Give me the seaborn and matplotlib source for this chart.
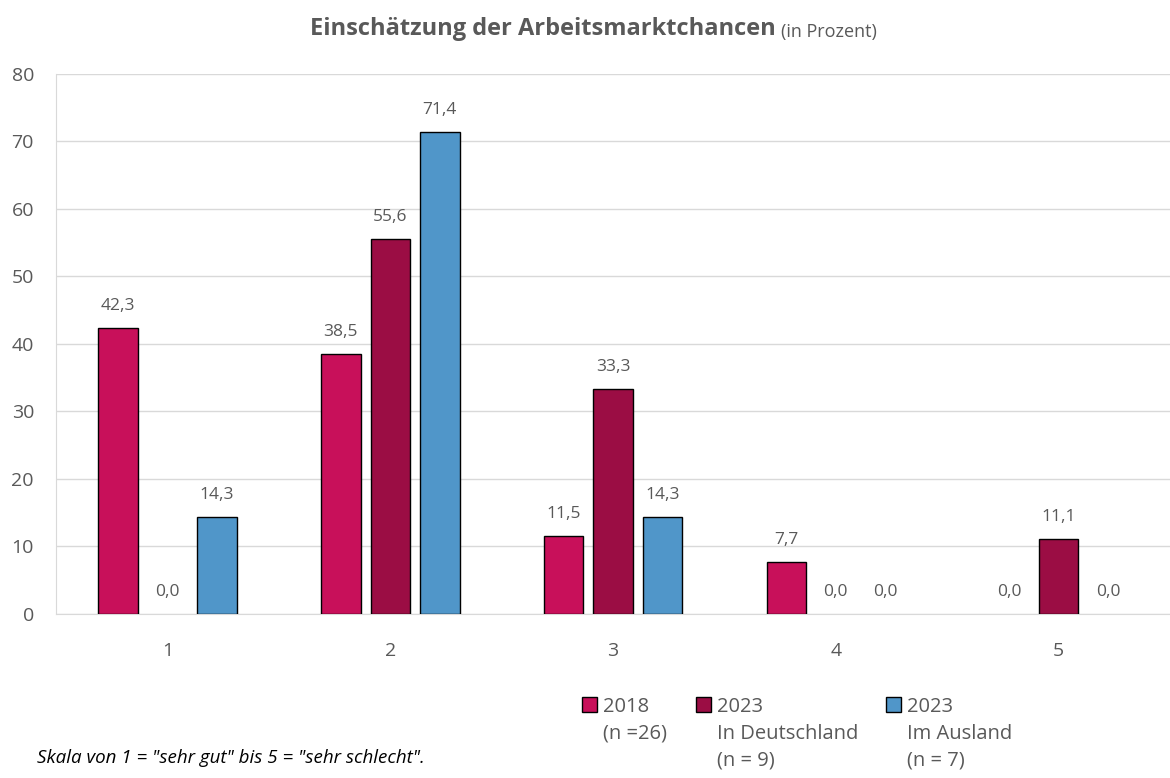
import numpy as np
import pandas as pd
import matplotlib.pyplot as plt
import seaborn as sns

# Daten
kategorien = ["1", "2", "3", "4", "5"]
gruppen = ["2018\n(n =26)", "2023\nIn Deutschland\n(n = 9)", "2023\nIm Ausland\n(n = 7)"]
werte_2018 = [42.3, 38.5, 11.5, 7.7, 0.0]
werte_2023_de = [0.0, 55.6, 33.3, 0.0, 11.1]
werte_2023_aus = [14.3, 71.4, 14.3, 0.0, 0.0]
farben = ["#C8105A", "#9B0D44", "#5096C9"]

df = pd.DataFrame({
    "Kategorie": kategorien * 3,
    "Gruppe": [gruppen[0]] * 5 + [gruppen[1]] * 5 + [gruppen[2]] * 5,
    "Prozent": werte_2018 + werte_2023_de + werte_2023_aus,
})

sns.set_style("white")
plt.rcParams['font.family'] = ['Open Sans', 'DejaVu Sans']
grau = "#595959"

fig = plt.figure(figsize=(11.7, 7.78), dpi=100)
ax = fig.add_axes([0.048, 0.211, 0.952, 0.694])

sns.barplot(data=df, x="Kategorie", y="Prozent", hue="Gruppe", palette=farben, saturation=1,
            width=0.667, gap=0.2, edgecolor="black", linewidth=1, ax=ax, zorder=3)

for cont in ax.containers:
    for p, v in zip(cont.patches, cont.datavalues):
        if v == 0:
            p.set_linewidth(0)
    ax.bar_label(cont, labels=[f"{v:.1f}".replace(".", ",") for v in cont.datavalues],
                 padding=10, fontsize=12.5, color=grau)

ax.set_ylim(0, 80)
ax.set_xlim(-0.5, 4.5)
ax.set_yticks(range(0, 81, 10))
ax.yaxis.grid(True, color="#D9D9D9", linewidth=1, zorder=0)
ax.set_xlabel("")
ax.set_ylabel("")
ax.tick_params(axis="both", labelsize=14, labelcolor=grau, length=0)
ax.tick_params(axis="x", pad=20)
ax.tick_params(axis="y", pad=16)
for s in ["top", "right"]:
    ax.spines[s].set_visible(False)
for s in ["left", "bottom"]:
    ax.spines[s].set_color("#D9D9D9")

sns.move_legend(ax, "upper left", bbox_to_anchor=(0.456, -0.12), ncol=3, frameon=False,
                title=None, fontsize=14.5, handlelength=0.75, handleheight=0.75,
                handletextpad=0.3, columnspacing=1.4, labelcolor=grau, labelspacing=0.3)
leg = ax.get_legend()
for txt in leg.get_texts():
    txt.set_linespacing(1.45)
leg._legend_handle_box.align = "top"
for spalte in leg._legend_handle_box.get_children():
    for zeile in spalte.get_children():
        zeile.align = "top"

t1 = fig.text(0.265, 0.955, "Einschätzung der Arbeitsmarktchancen", fontsize=17,
              fontweight="bold", color=grau, va="baseline")
ax.annotate("(in Prozent)", xy=(1, 0), xycoords=t1, xytext=(4, 0), textcoords="offset points",
            fontsize=13, color=grau, va="bottom")

fig.text(0.032, 0.026, 'Skala von 1 = "sehr gut" bis 5 = "sehr schlecht".', fontsize=13.5,
         style="italic", color="black", va="center")

plt.savefig("out.png", dpi=100)
